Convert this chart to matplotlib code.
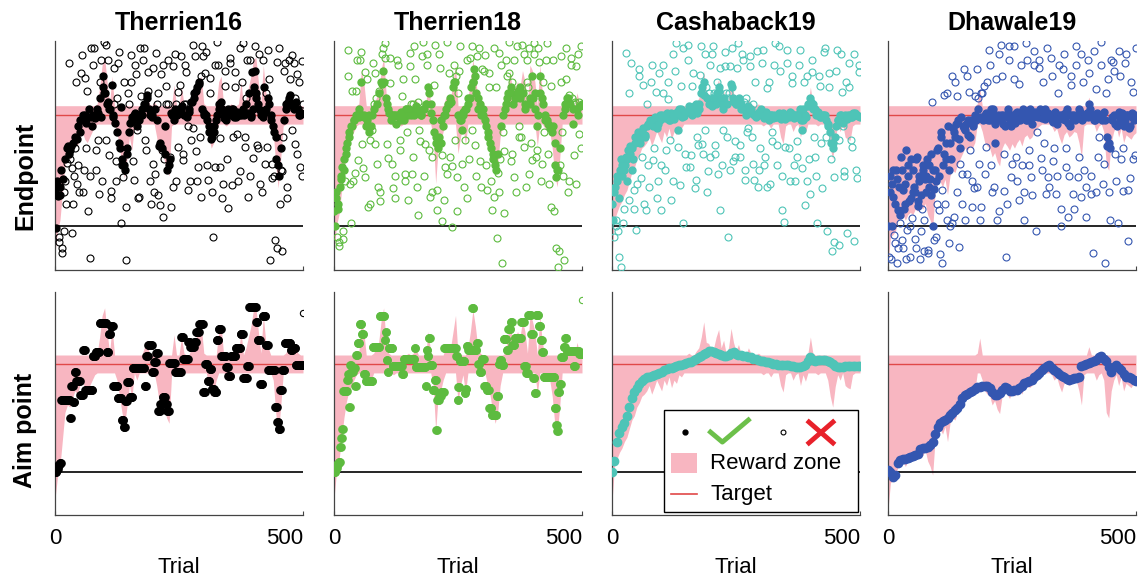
import numpy as np
import matplotlib
matplotlib.use("Agg")
import matplotlib.pyplot as plt
from matplotlib.patches import Rectangle

plt.rcParams["font.family"] = ["Liberation Sans", "DejaVu Sans"]

titles = ["Therrien16", "Therrien18", "Cashaback19", "Dhawale19"]
dot_colors = ["#000000", "#5DBB3F", "#4EC4B7", "#3456B0"]
row_labels = ["Endpoint", "Aim point"]
xtick_vals = [0, 500]
xtick_labels = ["0", "500"]
target = 1.0
band = 0.083

# reward zone edge (every 5 trials); the zone spans the target band plus up/down to this edge
zone_trials = np.arange(0, 501, 5)
t16_zone = [-0.25, -0.05, 0.05, 0.3, 0.55, 0.62, 0.6, 0.68, 0.75, 0.72,
            0.8, 0.85, 0.78, 0.75, 0.8, 0.85, 0.9, 1.1, 1.25, 1.45,
            1.52, 1.3, 1.1, 1.35, 1.0, 0.85, 0.7, 0.55, 0.43, 0.6,
            0.8, 0.68, 0.95, 0.85, 1.0, 1.05, 1.15, 1.22, 1.1, 0.95,
            1.12, 0.8, 0.65, 0.7, 0.6, 0.5, 0.45, 0.9, 1.27, 1.0,
            1.05, 1.25, 1.1, 1.0, 1.05, 1.15, 1.2, 1.25, 1.3, 1.35,
            1.1, 0.95, 0.8, 0.7, 0.75, 0.85, 1.3, 1.35, 1.0, 0.9,
            1.05, 1.1, 1.0, 0.95, 1.1, 1.3, 1.0, 1.15, 1.25, 1.35,
            1.5, 1.52, 1.3, 1.1, 1.45, 1.2, 1.15, 1.0, 0.85, 0.55,
            0.34, 0.6, 0.9, 1.1, 1.15, 1.2, 1.05, 1.15, 1.1, 1.0, 1.0]
t18_zone = [-0.25, 0.0, 0.1, 0.3, 0.5, 0.65, 0.75, 0.8, 0.85, 0.9,
            1.1, 1.4, 1.3, 0.85, 0.8, 0.85, 1.1, 1.15, 1.2, 1.4,
            1.52, 1.2, 1.1, 0.95, 0.9, 1.0, 0.95, 0.9, 1.0, 1.05,
            1.1, 1.0, 1.1, 1.15, 1.0, 0.95, 1.05, 1.1, 1.3, 1.1,
            0.8, 0.38, 0.7, 0.75, 0.85, 1.15, 1.15, 1.15, 1.3, 1.45,
            0.65, 0.8, 0.9, 0.73, 1.15, 1.3, 1.5, 1.35, 1.15, 1.1,
            1.0, 0.9, 0.8, 0.7, 0.55, 0.45, 0.55, 0.8, 0.95, 1.1,
            1.25, 1.4, 1.2, 1.25, 1.3, 1.25, 1.4, 1.3, 1.1, 1.45,
            1.4, 1.3, 0.72, 1.45, 1.2, 0.88, 0.88, 0.85, 0.7, 0.45,
            0.35, 0.6, 0.95, 1.1, 1.2, 1.15, 1.0, 0.95, 1.2, 1.1, 1.1]
c19_zone = [-0.28, 0.05, 0.12, 0.18, 0.22, 0.28, 0.32, 0.4, 0.48, 0.52,
            0.6, 0.64, 0.7, 0.72, 0.75, 0.8, 0.72, 0.78, 0.85, 0.8,
            0.75, 0.85, 0.8, 0.88, 0.78, 0.85, 0.82, 0.9, 0.88, 0.95,
            1.0, 1.1, 1.05, 0.95, 1.12, 1.15, 1.25, 1.39, 1.2, 1.19,
            1.13, 1.15, 1.25, 1.32, 1.15, 1.22, 1.1, 1.15, 1.33, 1.2,
            1.12, 1.18, 1.1, 1.11, 1.05, 1.15, 1.1, 1.0, 0.95, 1.1,
            1.0, 0.9, 0.95, 1.0, 0.88, 0.92, 1.0, 0.95, 0.8, 0.74,
            0.9, 1.0, 0.95, 0.85, 0.9, 1.0, 0.8, 0.9, 0.84, 1.1,
            1.25, 1.1, 1.05, 0.9, 1.0, 1.08, 0.95, 0.85, 0.7, 0.6,
            0.79, 0.9, 0.85, 0.95, 0.8, 0.78, 0.77, 0.9, 0.95, 1.0, 1.0]
d19_zone = [-0.35, -0.1, -0.08, -0.05, 0.05, 0.08, 0.1, 0.05, 0.1, 0.12,
            0.1, 0.15, 0.13, 0.18, 0.15, 0.2, 0.1, 0.05, -0.03, 0.3,
            0.38, 0.4, 0.35, 0.42, 0.28, 0.45, 0.5, 0.48, 0.55, 0.6,
            0.65, 0.7, 0.68, 0.72, 0.7, 0.75, 1.1, 1.24, 0.85, 0.75,
            0.72, 0.7, 0.62, 0.66, 0.58, 0.54, 0.7, 0.75, 0.72, 0.68,
            0.74, 0.7, 0.75, 0.78, 0.72, 0.8, 0.82, 0.78, 0.8, 0.85,
            0.88, 0.9, 0.92, 0.95, 0.96, 0.97, 0.9, 0.85, 0.88, 0.8,
            0.74, 0.82, 0.85, 0.8, 0.82, 0.85, 0.84, 0.75, 0.62, 0.9,
            1.0, 1.16, 1.0, 0.95, 0.85, 0.9, 0.95, 0.85, 0.55, 0.5,
            0.75, 0.85, 0.9, 0.8, 0.88, 0.75, 0.82, 0.8, 0.78, 0.82, 0.84]

# aim point: Therrien studies hold a value over runs of trials (value, run length)
t16_aim_levels = [0.0, 0.03, 0.06, 0.08, 0.67, 0.5, 0.8, 0.65, 0.93, 0.84, 0.71, 1.13, 0.76,
                  1.07, 1.11, 1.38, 1.11, 1.28, 1.35, 0.8, 0.68, 0.48, 0.42, 0.66, 0.83, 0.69,
                  0.96, 0.8, 1.07, 1.18, 0.93, 1.02, 1.1, 0.56, 0.63, 0.69, 0.63, 0.56, 1.01,
                  0.93, 1.25, 1.05, 1.2, 1.16, 1.2, 1.3, 1.37, 0.74, 1.0, 0.84, 0.95, 0.77,
                  0.74, 1.22, 1.32, 1.07, 0.97, 0.89, 1.07, 1.15, 1.28, 0.87, 0.98, 1.53,
                  1.39, 1.22, 0.81, 1.44, 1.18, 0.94, 0.6, 0.46, 0.4, 0.76, 0.94, 1.19,
                  1.13, 1.15, 0.99, 1.47]
t16_aim_runs = [3, 3, 3, 3, 18, 2, 4, 3, 3, 8, 6, 4, 15,
                6, 8, 14, 4, 4, 5, 10, 8, 4, 3, 4, 5, 6,
                24, 3, 4, 8, 4, 4, 4, 4, 5, 5, 4, 4, 12,
                13, 4, 10, 4, 8, 4, 6, 8, 4, 5, 4, 4, 5,
                5, 4, 5, 10, 4, 5, 10, 10, 6, 8, 4, 14,
                3, 5, 5, 6, 5, 14, 4, 3, 3, 4, 5, 12,
                4, 6, 15, 1]
t18_aim_levels = [0.0, 0.04, 0.07, 0.09, 0.23, 0.31, 0.4, 0.75, 0.85, 0.91, 0.6, 0.99,
                  0.93, 0.96, 0.8, 1.08, 1.19, 1.37, 1.28, 0.91, 0.84, 1.16, 1.44, 1.22,
                  1.3, 1.04, 0.93, 1.15, 0.98, 0.91, 1.05, 1.15, 0.97, 0.8, 1.13, 1.07,
                  1.24, 0.99, 0.76, 0.85, 0.39, 0.67, 0.7, 0.74, 1.15, 1.07, 0.67, 0.79,
                  1.03, 0.73, 0.77, 1.17, 1.13, 1.52, 1.13, 1.19, 1.0, 0.93, 1.05, 0.8,
                  0.76, 0.59, 0.53, 0.7, 1.0, 1.04, 0.99, 1.23, 1.13, 1.32, 1.39, 1.18,
                  1.24, 1.39, 0.98, 0.92, 1.45, 1.28, 0.87, 0.73, 1.45, 1.35, 1.22, 1.11,
                  0.88, 0.59, 0.43, 0.38, 0.74, 0.81, 1.06, 1.16, 1.24, 1.12, 0.98, 1.12,
                  1.09, 1.59]
t18_aim_runs = [3, 3, 3, 3, 2, 2, 2, 8, 2, 2, 2, 2,
                4, 4, 2, 3, 4, 4, 4, 4, 14, 14, 10, 2,
                2, 2, 2, 8, 20, 3, 22, 2, 20, 2, 2, 2,
                3, 5, 4, 3, 2, 4, 4, 6, 24, 3, 2, 3,
                10, 2, 2, 3, 8, 3, 6, 3, 3, 4, 5, 5,
                5, 5, 10, 4, 3, 3, 4, 6, 3, 5, 3, 5,
                14, 6, 4, 4, 6, 4, 3, 3, 5, 4, 3, 3,
                22, 3, 2, 2, 3, 3, 5, 3, 3, 14, 3, 8,
                6, 1]
# aim point every 5 trials for the smoothly drifting studies
c19_aim = [0.0, 0.1, 0.28, 0.36, 0.42, 0.45, 0.52, 0.6, 0.68, 0.74,
           0.78, 0.81, 0.84, 0.86, 0.88, 0.88, 0.89, 0.9, 0.91, 0.92,
           0.93, 0.94, 0.95, 0.96, 0.96, 0.97, 0.98, 0.99, 0.99, 1.0,
           1.01, 1.02, 1.02, 1.04, 1.05, 1.06, 1.07, 1.09, 1.1, 1.12,
           1.12, 1.11, 1.1, 1.09, 1.08, 1.07, 1.07, 1.08, 1.1, 1.11,
           1.09, 1.08, 1.08, 1.07, 1.07, 1.06, 1.06, 1.05, 1.05, 1.04,
           1.03, 1.03, 1.02, 1.02, 1.01, 1.0, 1.0, 0.99, 0.99, 0.99,
           0.99, 0.99, 0.98, 0.98, 0.97, 0.97, 0.97, 0.98, 0.99, 1.03,
           1.06, 1.04, 1.03, 1.04, 1.04, 1.04, 1.04, 1.03, 1.02, 1.0,
           0.98, 0.97, 0.97, 0.97, 0.98, 0.98, 0.98, 0.98, 0.98, 0.98, 0.98]
d19_aim = [0.02, 0.0, -0.05, -0.03, 0.08, 0.11, 0.12, 0.12, 0.13, 0.14,
           0.15, 0.16, 0.17, 0.21, 0.22, 0.22, 0.23, 0.25, 0.28, 0.35,
           0.42, 0.45, 0.47, 0.48, 0.5, 0.53, 0.55, 0.57, 0.59, 0.63,
           0.68, 0.71, 0.72, 0.74, 0.75, 0.77, 0.79, 0.79, 0.8, 0.8,
           0.8, 0.78, 0.74, 0.71, 0.71, 0.73, 0.76, 0.79, 0.78, 0.75,
           0.75, 0.76, 0.76, 0.78, 0.8, 0.82, 0.83, 0.84, 0.85, 0.88,
           0.9, 0.92, 0.94, 0.96, 0.98, 0.99, 0.96, 0.94, 0.93, 0.91,
           0.89, 0.88, 0.86, 0.85, 0.86, 0.87, 0.87, 0.88, 0.98, 0.99,
           1.0, 1.01, 1.02, 1.03, 1.04, 1.06, 1.07, 1.05, 1.03, 0.97,
           0.93, 0.97, 0.99, 0.96, 0.94, 0.91, 0.88, 0.88, 0.87, 0.85, 0.84]

# endpoints, two interleaved sets, one point every 2.5 trials in each set
ep_trials = np.arange(1, 500, 2.5)
ep_trials2 = ep_trials + 1.25
t16_ep = [0.3, 0.4, 0.27, -0.15, 0.35, -0.25, 0.42, -0.05, 0.6, 0.7,
          0.72, 1.47, 0.68, -0.07, 0.75, 0.45, 0.8, 0.38, 0.9, 0.3,
          0.95, 1.54, 1.0, 0.5, 1.33, 0.93, 0.13, 1.05, -0.29, 0.98,
          1.0, 1.6, 0.97, 0.68, 1.02, 0.29, 1.15, 1.5, 1.25, 1.66,
          1.2, 1.63, 1.12, 0.64, 1.05, 0.31, 0.98, 1.42, 0.93, 0.58,
          0.85, 1.57, 0.7, 0.02, 0.55, 1.3, 0.5, -0.31, 0.7, 1.1,
          0.93, 1.54, 0.98, 0.41, 1.02, 1.37, 0.86, 0.26, 1.0, 1.17,
          1.05, 1.6, 1.1, 0.68, 1.15, 1.39, 1.0, 0.2, 0.98, 0.56,
          1.05, 1.56, 0.95, 0.28, 0.75, 1.37, 0.7, 0.08, 0.65, 1.26,
          0.5, 1.5, 0.6, 0.17, 1.0, 1.44, 1.05, 0.4, 1.0, 1.21,
          1.02, 1.53, 1.08, 0.65, 1.1, 1.39, 0.98, 0.32, 1.05, 0.77,
          1.12, 1.63, 1.2, 0.67, 1.25, 0.53, 1.3, 0.26, 1.05, 1.53,
          1.02, 1.57, 0.95, 0.41, 0.85, 1.33, 0.8, -0.1, 0.9, 0.53,
          1.0, 1.45, 1.1, 0.53, 1.05, 0.38, 0.97, 1.26, 1.02, 0.16,
          1.0, 1.51, 1.05, 0.8, 0.98, 1.39, 1.03, 0.4, 1.0, 0.49,
          1.03, 1.65, 1.0, 0.71, 1.1, 0.26, 1.2, 1.5, 1.0, 0.61,
          1.25, 1.62, 1.15, 0.7, 1.05, 0.38, 1.0, 1.5, 1.02, 0.56,
          1.2, 1.59, 1.1, -0.31, 0.95, 0.43, 0.85, -0.13, 0.6, 1.48,
          0.45, 0.2, 0.7, -0.23, 0.95, 1.47, 1.1, 0.35, 1.15, 1.32,
          1.1, 1.54, 1.05, 0.74, 1.12, 1.37, 1.0, 0.53, 1.02, 1.49]
t16_ep2 = [-0.02, 0.35, -0.1, 0.28, 0.5, -0.2, 0.3, 0.4, 0.2, 0.57,
           0.65, 0.6, 0.72, 0.52, 0.2, 0.7, 1.3, 0.78, 0.55, 0.85,
           1.38, 0.95, 0.3, 1.0, 0.7, 1.22, 0.98, 0.45, 1.6, 0.9,
           1.45, 1.0, 0.5, 1.05, 0.77, 1.3, 0.98, 0.4, 1.35, 1.2,
           0.77, 1.1, 1.5, 1.05, 0.25, 1.27, 1.0, 1.1, 0.4, 1.15,
           1.47, 0.75, 1.07, 0.6, 0.44, 0.55, 0.17, 0.65, 1.2, 0.85,
           1.3, 0.95, 0.58, 1.0, 1.45, 0.9, 0.25, 0.95, 1.6, 1.0,
           1.5, 1.1, 0.77, 1.18, 1.22, 1.05, 0.4, 1.0, 1.42, 0.3,
           0.47, 1.1, 1.2, 0.72, 0.19, 0.68, 1.45, 0.6, 0.9, 1.1,
           1.1, 0.55, 0.62, 1.02, 0.35, 0.95, 1.55, 1.1, 0.71, 1.05,
           1.27, 1.05, 0.59, 1.0, 1.45, 1.1, 0.9, 1.03, 0.4, 1.12,
           0.88, 1.15, 1.53, 1.22, 0.4, 1.28, 0.8, 1.35, 1.62, 1.0,
           1.38, 1.0, 0.55, 0.9, 1.2, 0.78, 0.3, 0.85, 1.45, 0.95,
           1.66, 1.05, 0.79, 1.12, 0.25, 1.0, 1.4, 0.95, 0.6, 1.05,
           1.47, 1.02, 0.37, 1.05, 1.25, 0.98, 0.83, 1.02, 1.6, 1.0,
           1.3, 1.05, 0.8, 1.15, 1.5, 1.02, 0.45, 0.98, 1.39, 1.05,
           1.4, 1.2, 0.73, 1.1, 1.55, 1.03, 0.3, 0.98, 1.25, 1.05,
           0.71, 1.15, 1.32, 1.0, 0.56, 0.9, 0.45, 0.8, -0.2, 0.55,
           1.6, 0.5, 0.49, 0.8, 1.4, 1.05, 0.25, 1.12, 1.5, 1.18,
           0.86, 1.08, 1.47, 1.15, 0.65, 1.05, 1.3, 1.0, 0.45, 1.1]
t18_ep = [0.13, 0.25, -0.1, 0.2, -0.15, 0.45, 0.53, -0.05, 0.6, 0.65,
          0.75, 1.59, 0.85, 0.02, 0.9, 0.4, 0.95, 1.22, 1.0, 0.59,
          1.05, 1.57, 1.0, 0.52, 0.98, 1.39, 0.95, 0.17, 1.0, 0.77,
          1.0, 1.47, 1.05, 0.74, 1.1, 0.35, 1.2, 0.22, 1.28, 1.6,
          1.3, 1.65, 1.1, 0.61, 1.02, 1.51, 0.98, 0.34, 1.0, 0.25,
          1.0, 1.45, 0.98, 0.68, 1.03, 1.32, 0.95, 0.47, 1.05, 0.23,
          1.05, 1.56, 1.1, 0.62, 1.0, 1.32, 1.08, 0.1, 1.03, 0.76,
          1.0, 1.66, 1.05, 0.74, 1.1, 1.45, 1.2, 0.26, 1.02, 0.62,
          0.85, 1.63, 0.75, 0.32, 0.8, 1.42, 0.95, 0.04, 1.0, 0.53,
          1.05, 1.66, 1.1, 0.62, 1.12, -0.01, 1.3, 0.77, 1.35, 0.13,
          1.0, 1.62, 0.95, 0.56, 1.03, 0.77, 1.05, 0.25, 1.15, 1.51,
          1.25, 1.62, 1.3, 0.73, 1.2, 1.53, 1.05, 0.58, 1.0, 1.41,
          1.0, 1.54, 0.9, 0.32, 0.8, 1.38, 0.7, 0.14, 0.6, 0.26,
          0.5, -0.11, 0.65, 1.56, 0.9, -0.34, 1.0, 0.11, 1.1, 1.35,
          1.2, 1.66, 1.25, 0.65, 1.1, 0.44, 1.15, 1.62, 1.22, 0.8,
          1.15, 1.63, 1.2, 0.71, 1.05, 1.5, 1.25, 0.47, 1.1, 0.59,
          1.15, 1.65, 1.05, 0.68, 1.0, 1.48, 1.2, 0.56, 1.1, 0.85,
          1.0, 1.65, 0.92, 0.38, 0.88, 1.26, 0.9, 0.13, 0.55, 0.44,
          0.5, -0.23, 0.7, 1.53, 1.0, -0.31, 1.1, 1.32, 1.15, 0.4,
          1.1, 1.51, 1.05, 0.64, 1.12, 1.44, 1.0, 0.83, 1.08, 1.62]
t18_ep2 = [0.0, 0.3, 0.15, -0.18, 0.35, 0.42, -0.12, 0.5, 0.4, 0.7,
           1.35, 0.8, 0.38, 0.9, 1.22, 0.95, 0.48, 1.0, 1.5, 0.98,
           1.5, 1.3, 0.74, 1.0, 0.44, 0.9, 1.32, 0.85, 0.2, 0.9,
           0.86, 1.1, 1.38, 1.15, 0.56, 1.22, 0.3, 1.3, 1.55, 1.4,
           1.51, 1.15, 0.74, 1.05, 1.29, 0.95, 0.56, 1.0, 0.45, 0.92,
           1.5, 1.0, 0.77, 0.95, 1.17, 1.0, 0.4, 1.05, 0.85, 1.0,
           1.44, 1.0, 0.47, 1.1, 1.62, 1.05, 0.35, 1.12, 0.86, 1.0,
           1.53, 1.05, 0.45, 1.1, 1.55, 1.25, 0.68, 1.1, 0.3, 0.95,
           1.27, 0.8, 0.14, 0.7, 1.55, 0.75, 0.64, 0.9, 0.23, 1.0,
           0.47, 1.1, 1.38, 1.15, 0.54, 1.25, 1.45, 1.3, 0.44, 1.2,
           1.4, 0.95, 0.86, 1.0, 0.35, 1.05, 1.5, 1.1, 0.6, 1.15,
           0.86, 1.3, 1.41, 1.35, 0.45, 1.15, 1.6, 1.1, 0.35, 1.05,
           1.4, 0.95, 0.55, 0.85, 1.25, 0.75, 0.4, 0.65, 1.6, 0.55,
           1.25, 0.48, 0.3, 0.6, 1.45, 0.85, 0.67, 1.05, 1.5, 1.15,
           1.38, 1.2, 0.58, 1.3, 1.5, 1.15, 0.3, 1.2, 0.9, 1.25,
           0.8, 1.2, 1.55, 1.1, 0.35, 1.3, 1.6, 1.15, 0.75, 1.35,
           1.55, 1.2, 0.62, 0.9, 1.6, 1.35, 0.4, 1.15, 1.3, 0.95,
           1.5, 0.95, 0.65, 0.9, 0.17, 0.85, 1.5, 0.75, -0.2, 0.5,
           -0.37, 0.55, 1.3, 0.85, 0.45, 1.05, 1.6, 1.15, 0.3, 1.18,
           1.45, 1.15, 0.92, 1.1, 0.38, 1.05, 1.55, 1.12, 0.7, 1.1]
c19_ep = [0.2, -0.1, 0.35, 0.05, 0.45, -0.28, 0.5, -0.37, 0.55, 0.15,
          0.55, 1.56, 0.6, 0.23, 0.65, 1.47, 0.7, 0.32, 0.75, -0.04,
          0.8, 1.41, 0.75, 0.43, 0.85, 1.27, 0.8, 0.14, 0.9, 0.55,
          0.92, 1.3, 0.95, 0.59, 0.98, 1.21, 0.88, 0.4, 0.95, 0.14,
          1.0, 1.45, 0.97, 0.68, 1.02, 1.14, 0.95, 0.23, 1.0, 0.4,
          1.0, 1.65, 1.03, 0.71, 1.05, 1.26, 0.98, 0.02, 1.02, 0.53,
          1.03, 1.63, 1.05, 0.64, 1.0, 1.38, 1.08, 0.41, 1.02, 0.73,
          1.1, 1.62, 1.25, 0.65, 1.3, 0.86, 1.15, 0.49, 1.1, 1.45,
          1.08, 1.62, 1.15, 0.73, 1.2, 0.47, 1.25, 1.42, 1.1, 0.86,
          1.15, 1.57, 1.1, -0.1, 1.2, 1.44, 1.25, 0.58, 1.12, 0.76,
          1.1, 1.65, 1.15, 0.73, 1.05, 1.5, 1.12, 0.41, 1.0, 0.88,
          1.05, 1.53, 1.02, 0.56, 1.0, 1.3, 0.98, 0.35, 1.03, 0.7,
          1.0, 1.59, 0.97, 0.62, 1.02, 1.24, 0.95, 0.38, 1.0, 0.76,
          1.0, 1.65, 0.98, 0.55, 1.02, 1.4, 0.96, 0.14, 0.99, 0.71,
          1.0, 1.47, 0.98, 0.4, 1.02, 1.29, 0.97, 0.4, 1.0, 0.76,
          1.0, 1.59, 0.95, 0.52, 1.05, 0.19, 0.98, 1.35, 1.1, 0.29,
          1.12, 1.39, 1.05, 0.62, 1.0, 0.02, 1.03, 1.26, 0.98, 0.34,
          1.0, 1.6, 0.95, -0.05, 0.9, 1.38, 0.75, -0.23, 0.7, 0.44,
          0.9, 1.59, 0.95, -0.17, 1.0, 1.21, 0.93, 0.49, 0.98, -0.07,
          1.0, 1.47, 0.98, 0.71, 1.02, -0.14, 1.0, 0.43, 0.99, 1.39]
c19_ep2 = [0.05, 0.3, 0.0, 0.4, -0.05, 0.25, 0.6, 0.45, 0.02, 0.5,
           0.62, 0.4, 0.68, 1.2, 0.72, 0.5, 0.6, 0.15, 0.8, 0.38,
           0.85, 1.35, 0.78, 0.62, 0.88, 0.2, 0.82, 1.1, 0.92, 0.35,
           0.95, 1.45, 0.9, 0.7, 0.97, 0.25, 0.92, 1.38, 1.0, 0.55,
           1.2, 0.98, 0.5, 1.0, 1.3, 0.95, 0.77, 1.02, 1.55, 0.96,
           1.4, 1.02, 0.86, 1.0, 0.37, 1.05, 1.6, 0.99, 0.65, 1.03,
           1.5, 1.08, 0.53, 1.02, 1.26, 1.05, 0.34, 1.1, 0.8, 1.05,
           1.36, 1.2, 0.74, 1.18, 1.55, 1.25, 0.3, 1.2, 0.62, 1.15,
           1.55, 1.2, 0.65, 1.1, 1.3, 1.22, 0.14, 1.15, 0.55, 1.05,
           1.44, 1.2, 0.8, 1.15, 0.5, 1.28, 1.6, 1.15, 0.62, 1.1,
           1.42, 1.12, 0.62, 1.1, 1.55, 1.05, 0.5, 1.15, 0.85, 1.08,
           1.44, 1.05, 0.8, 1.1, 0.41, 1.0, 1.58, 1.02, 0.5, 1.05,
           1.47, 1.0, 0.55, 1.03, 0.35, 0.98, 1.3, 1.0, 0.85, 0.97,
           1.45, 0.98, 0.73, 1.0, 1.62, 0.97, 0.45, 1.02, 0.03, 0.96,
           1.59, 1.0, 0.7, 1.03, 1.35, 0.98, 0.55, 1.0, 0.62, 0.98,
           1.45, 1.05, 0.86, 0.95, 1.3, 1.0, 0.4, 1.08, 0.6, 1.15,
           1.5, 1.1, 0.8, 1.05, 0.45, 1.0, 1.35, 0.98, 0.75, 1.0,
           1.57, 1.0, 0.8, 0.92, 1.25, 0.85, 0.6, 0.75, -0.15, 0.8,
           1.4, 0.95, 0.77, 1.0, 1.55, 0.9, 0.45, 1.0, 1.3, 0.96,
           1.25, 1.0, 0.77, 0.98, 1.55, 1.02, 0.5, 1.0, 1.45, 0.98]
d19_ep = [0.0, 0.45, -0.3, 0.38, 0.26, -0.16, 0.5, -0.34, 0.14, 0.02,
          0.62, -0.13, 0.32, 0.2, 0.68, -0.04, 0.45, -0.28, 0.25, 0.07,
          0.5, 0.3, -0.2, 0.62, 0.22, 0.4, -0.05, 0.15, 0.55, -0.23,
          0.45, 0.6, -0.22, 0.35, 0.28, 1.12, 0.5, -0.13, 0.4, 0.2,
          0.7, 0.14, 0.85, -0.34, 0.55, 1.18, 0.6, 0.05, 0.9, -0.16,
          0.75, 1.35, 0.88, 0.08, 0.8, 1.17, 0.95, -0.19, 0.7, 0.47,
          0.9, 1.41, 0.86, 0.47, 0.95, 1.21, 0.8, 0.17, 0.92, 0.34,
          1.0, 1.41, 1.15, 0.56, 0.98, 0.17, 0.95, 1.26, 1.0, 0.71,
          1.0, 1.59, 0.95, 0.55, 1.05, 0.35, 0.92, 1.32, 1.0, 0.13,
          0.95, 1.63, 1.0, 0.31, 0.9, -0.28, 1.02, 1.5, 0.95, 0.44,
          1.0, 1.32, 0.93, 0.62, 1.03, 0.23, 0.95, 1.45, 1.0, 0.05,
          1.0, 1.65, 0.95, 0.68, 1.05, 0.44, 0.92, 1.58, 1.0, -0.05,
          1.0, 1.42, 1.03, 0.61, 0.97, 1.3, 1.05, 0.29, 0.99, 0.44,
          1.0, 1.51, 0.95, 0.58, 1.02, 0.29, 0.92, 1.2, 0.98, 0.0,
          1.0, 1.41, 0.95, 0.53, 1.05, 0.08, 0.9, 1.27, 1.0, 0.29,
          1.0, 1.62, 0.98, 0.44, 1.05, 0.26, 0.95, 1.3, 1.0, 0.35,
          1.02, 1.5, 1.1, 0.29, 1.0, -0.25, 0.95, 1.23, 1.0, 0.62,
          1.0, 1.66, 0.95, 0.38, 1.03, -0.34, 0.8, 1.32, 0.75, 0.05,
          0.95, 1.48, 1.0, 0.65, 0.9, 0.02, 1.03, 1.35, 1.0, 0.31,
          0.9, 1.47, 1.0, -0.14, 0.88, 0.43, 1.02, 1.21, 0.95, 0.64]
d19_ep2 = [-0.28, 0.3, 0.0, 0.5, -0.08, 0.2, 0.42, -0.2, 0.35, 0.1,
           0.5, -0.2, 0.15, 0.38, -0.3, 0.55, 0.22, 0.0, 0.6, 0.3,
           0.35, -0.12, 0.6, 0.18, 0.45, -0.3, 0.28, 0.5, 0.05, 0.42,
           0.3, -0.25, 0.55, 0.42, 0.65, 0.0, 0.33, 0.5, -0.1, 0.68,
           0.45, -0.26, 0.8, 0.32, 0.65, 0.2, 0.75, 1.2, 0.5, 0.0,
           0.6, 0.02, 0.85, 1.3, 0.92, 0.3, 0.78, 0.56, 0.98, 0.2,
           0.88, 0.05, 0.92, 1.35, 0.82, 0.68, 0.95, 0.4, 0.9, 1.17,
           0.95, 0.35, 1.05, 0.05, 1.2, 1.2, 0.98, 0.47, 1.02, 1.3,
           0.95, 1.45, 1.05, 0.3, 1.0, 0.75, 0.95, 0.05, 0.98, 1.55,
           1.0, 1.35, 0.92, 0.65, 0.98, 0.2, 1.05, 1.62, 0.9, 0.56,
           0.98, 1.62, 1.02, 0.4, 0.95, 1.28, 1.0, 0.55, 1.05, 0.3,
           0.95, 1.5, 1.0, 0.55, 1.02, 0.28, 0.98, 1.45, 1.03, 0.85,
           0.98, 1.5, 1.05, 0.5, 1.0, 0.75, 0.96, 1.6, 1.02, 0.35,
           1.0, 1.35, 0.94, 0.7, 1.03, 0.45, 0.97, 1.45, 1.0, 0.15,
           0.96, 1.55, 1.02, 0.7, 0.93, 0.45, 1.0, 1.35, 0.98, 0.15,
           0.95, 1.45, 1.0, 0.62, 1.03, 1.55, 0.97, 0.5, 1.0, 0.08,
           0.98, 1.38, 1.05, 0.45, 1.0, 1.58, 0.95, 0.3, 1.02, 0.8,
           0.98, 1.45, 1.0, 0.56, 0.95, 1.2, 0.72, 0.3, 0.7, 1.5,
           0.98, 1.4, 0.92, 0.4, 1.0, 1.58, 0.95, 0.6, 1.02, 0.7,
           0.95, 1.55, 1.0, 0.32, 0.9, 1.3, 0.98, 0.6, 1.0, 1.6]

zones = [t16_zone, t18_zone, c19_zone, d19_zone]
endpoints = [t16_ep + t16_ep2, t18_ep + t18_ep2, c19_ep + c19_ep2, d19_ep + d19_ep2]
aims = [np.repeat(t16_aim_levels, t16_aim_runs), np.repeat(t18_aim_levels, t18_aim_runs),
        np.array(c19_aim), np.array(d19_aim)]
ep_x = np.concatenate([ep_trials, ep_trials2])

pink = "#F8B6C1"
red = "#E04848"
W, H = 1146, 582
lefts = [55, 334, 612, 888]
rows = [(41, 270), (292, 515)]

fig = plt.figure(figsize=(W / 100, H / 100), dpi=100)

for c in range(4):
    col = dot_colors[c]
    zone = np.array(zones[c])
    for r in range(2):
        top, bot = rows[r]
        ax = fig.add_axes([lefts[c] / W, 1 - bot / H, 248 / W, (bot - top) / H])
        ax.fill_between(zone_trials, np.minimum(zone, target - band),
                        np.maximum(zone, target + band), color=pink, lw=0, zorder=1)
        ax.axhline(0, color="black", lw=1.2, zorder=2)
        ax.axhline(target, color=red, lw=1.0, zorder=2)

        if r == 0:
            ep = np.array(endpoints[c])
            z = np.interp(ep_x, zone_trials, zone)
            hit = (ep >= np.minimum(z, target - band)) & (ep <= np.maximum(z, target + band))
            ax.plot(ep_x[~hit], ep[~hit], "o", mfc="none", mec=col, ms=5, mew=0.8, zorder=3)
            ax.plot(ep_x[hit], ep[hit], "o", color=col, ms=5, zorder=4)
            ax.set_title(titles[c], fontsize=18, fontweight="bold", pad=8)
        else:
            aim = aims[c]
            if c < 2:
                x = np.arange(1, len(aim) + 1)
                ax.plot(x[:-1], aim[:-1], "o", color=col, ms=5.2, zorder=4)
                ax.plot(x[-1:], aim[-1:], "o", mfc="none", mec=col, ms=4.5, mew=0.8, zorder=4)
            else:
                ax.plot(zone_trials, aim, "o", color=col, ms=6, zorder=4)
            ax.set_xlabel("Trial", fontsize=16, labelpad=6)

        ax.set_xlim(0, 500)
        ax.set_ylim(-0.4, 1.667)
        ax.set_yticks([])
        ax.set_xticks(xtick_vals)
        ax.set_xticklabels(xtick_labels if r == 1 else ["", ""], fontsize=16)
        if r == 1:
            ax.get_xticklabels()[1].set_ha("right")
        ax.tick_params(axis="x", direction="in", length=3, pad=9, color="#444444")
        for s in ["top", "right"]:
            ax.spines[s].set_visible(False)
        for s in ["left", "bottom"]:
            ax.spines[s].set_color("#444444")
            ax.spines[s].set_linewidth(0.9)

        # legend drawn in the Cashaback19 aim panel
        if c == 2 and r == 1:
            tr = ax.transAxes
            ax.add_patch(Rectangle((0.21, 0.013), 0.78, 0.458, transform=tr, fc="white",
                                   ec="black", lw=1, zorder=6))
            ax.plot([0.296], [0.372], "o", color="black", ms=3.5, transform=tr, zorder=7)
            ax.plot([0.397, 0.445, 0.55], [0.372, 0.327, 0.426], color="#6CC04A", lw=3.5,
                    transform=tr, zorder=7)
            ax.plot([0.688], [0.372], "o", mfc="none", mec="black", ms=3.5, mew=0.8,
                    transform=tr, zorder=7)
            ax.plot([0.794, 0.891], [0.417, 0.323], color="#E8212A", lw=3.5, transform=tr, zorder=7)
            ax.plot([0.794, 0.891], [0.323, 0.417], color="#E8212A", lw=3.5, transform=tr, zorder=7)
            ax.add_patch(Rectangle((0.239, 0.188), 0.105, 0.09, transform=tr, fc=pink,
                                   lw=0, zorder=7))
            ax.plot([0.239, 0.344], [0.094, 0.094], color=red, lw=1.2, transform=tr, zorder=7)
            ax.text(0.397, 0.233, "Reward zone", fontsize=16, va="center", transform=tr, zorder=7)
            ax.text(0.397, 0.094, "Target", fontsize=16, va="center", transform=tr, zorder=7)

fig.text(25 / W, 1 - 176 / H, row_labels[0], rotation=90, ha="center", va="center",
         fontsize=18, fontweight="bold")
fig.text(25 / W, 1 - 430 / H, row_labels[1], rotation=90, ha="center", va="center",
         fontsize=18, fontweight="bold")

fig.savefig("out.png", dpi=100)
